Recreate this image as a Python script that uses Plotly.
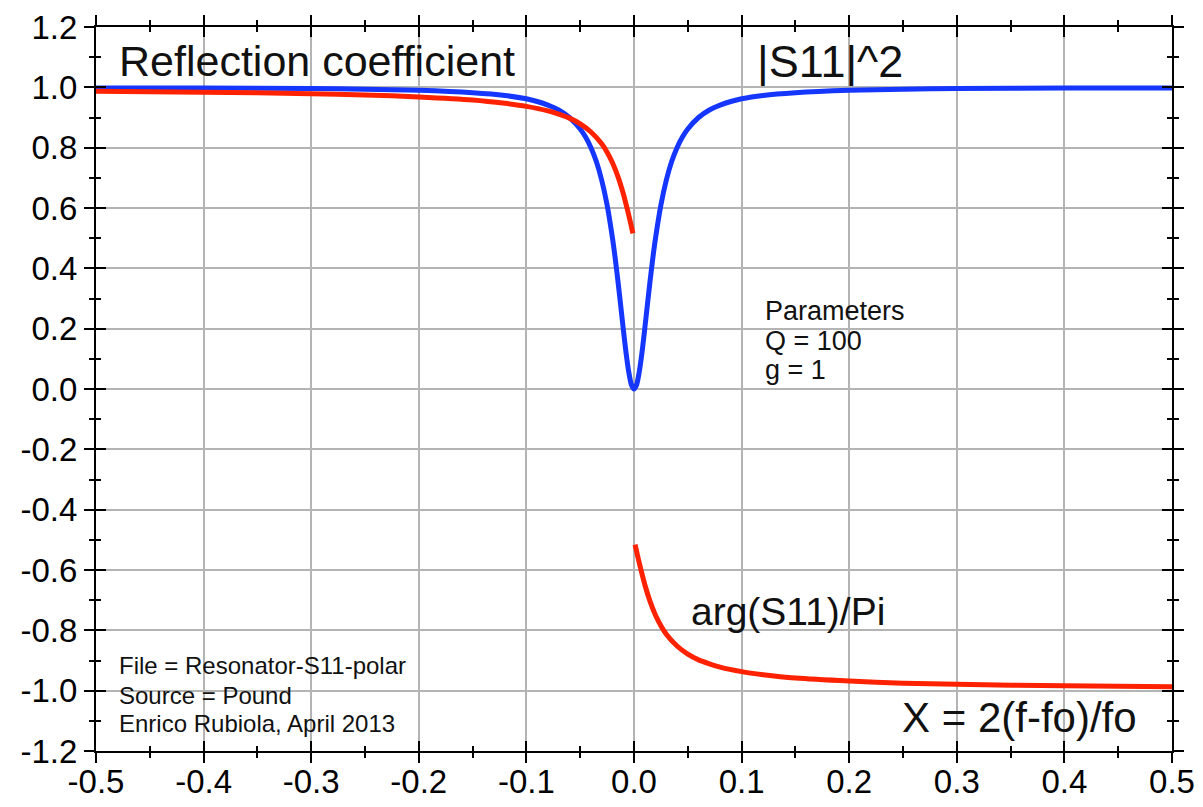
import plotly.graph_objects as go

# |S11|^2 (blue)
x_mag = [-0.5, -0.4, -0.3, -0.25, -0.2, -0.15, -0.12, -0.1, -0.09, -0.08, -0.07, -0.06, -0.05,
         -0.045, -0.04, -0.035, -0.03, -0.025, -0.02, -0.0175, -0.015, -0.0125, -0.01, -0.0075,
         -0.005, -0.0025, 0.0,
         0.0025, 0.005, 0.0075, 0.01, 0.0125, 0.015, 0.0175, 0.02, 0.025, 0.03, 0.035, 0.04, 0.045,
         0.05, 0.06, 0.07, 0.08, 0.09, 0.1, 0.12, 0.15, 0.2, 0.25, 0.3, 0.4, 0.5]
y_mag = [0.998, 0.998, 0.996, 0.994, 0.990, 0.982, 0.973, 0.962, 0.953, 0.941, 0.925, 0.900, 0.862,
         0.835, 0.800, 0.754, 0.692, 0.610, 0.500, 0.434, 0.360, 0.281, 0.200, 0.123,
         0.059, 0.015, 0.000,
         0.015, 0.059, 0.123, 0.200, 0.281, 0.360, 0.434, 0.500, 0.610, 0.692, 0.754, 0.800, 0.835,
         0.862, 0.900, 0.925, 0.941, 0.953, 0.962, 0.973, 0.982, 0.990, 0.994, 0.996, 0.998, 0.998]

# arg(S11)/Pi (red), two branches
x_arg_left = [-0.5, -0.4, -0.3, -0.25, -0.2, -0.15, -0.12, -0.1, -0.08, -0.07, -0.06, -0.05, -0.04,
              -0.03, -0.025, -0.02, -0.015, -0.01, -0.0075, -0.005, -0.0025, -0.001]
y_arg_left = [0.987, 0.984, 0.979, 0.975, 0.968, 0.958, 0.947, 0.937, 0.922, 0.911, 0.898, 0.879, 0.852,
              0.813, 0.785, 0.750, 0.705, 0.648, 0.614, 0.578, 0.540, 0.516]
x_arg_right = [0.001, 0.0025, 0.005, 0.0075, 0.01, 0.015, 0.02, 0.025, 0.03, 0.04, 0.05, 0.06, 0.07,
               0.08, 0.1, 0.12, 0.15, 0.2, 0.25, 0.3, 0.4, 0.5]
y_arg_right = [-0.516, -0.540, -0.578, -0.614, -0.648, -0.705, -0.750, -0.785, -0.813, -0.852, -0.879,
               -0.898, -0.911, -0.922, -0.937, -0.947, -0.958, -0.968, -0.975, -0.979, -0.984, -0.987]

x_ticks = [-0.5, -0.4, -0.3, -0.2, -0.1, 0.0, 0.1, 0.2, 0.3, 0.4, 0.5]
x_labels = ["-0.5", "-0.4", "-0.3", "-0.2", "-0.1", "0.0", "0.1", "0.2", "0.3", "0.4", "0.5"]
y_ticks = [1.2, 1.0, 0.8, 0.6, 0.4, 0.2, 0.0, -0.2, -0.4, -0.6, -0.8, -1.0, -1.2]
y_labels = ["1.2", "1.0", "0.8", "0.6", "0.4", "0.2", "0.0", "-0.2", "-0.4", "-0.6", "-0.8", "-1.0", "-1.2"]

BLUE = "#1536FF"
RED = "#FF2200"
FONT = "Liberation Sans, Arial, Helvetica, sans-serif"

fig = go.Figure()
fig.add_trace(go.Scatter(x=x_mag, y=y_mag, mode="lines", line=dict(color=BLUE, width=5, shape="spline", smoothing=0.6)))
fig.add_trace(go.Scatter(x=x_arg_left, y=y_arg_left, mode="lines", line=dict(color=RED, width=5, shape="spline", smoothing=0.6)))
fig.add_trace(go.Scatter(x=x_arg_right, y=y_arg_right, mode="lines", line=dict(color=RED, width=5, shape="spline", smoothing=0.6)))
# invisible trace to activate overlay axes
fig.add_trace(go.Scatter(x=[x_ticks[0]], y=[y_ticks[0]], xaxis="x2", yaxis="y2", mode="markers",
                         marker=dict(opacity=0), hoverinfo="skip"))

axis_common = dict(showline=True, linecolor="black", linewidth=2, mirror="ticks",
                   ticks="outside", ticklen=10, tickwidth=2, tickcolor="black",
                   zeroline=False, automargin=False)

fig.update_layout(
    width=1203, height=807,
    margin=dict(l=96, r=31, t=27, b=56),
    paper_bgcolor="white", plot_bgcolor="white",
    showlegend=False,
    font=dict(family=FONT, size=33, color="black"),
    xaxis=dict(range=[-0.5, 0.5], tickvals=x_ticks, ticktext=x_labels,
               showgrid=True, gridcolor="#b4b4b4", gridwidth=2,
               minor=dict(dtick=0.05, ticks="outside", ticklen=5, tickwidth=2, tickcolor="black", showgrid=False),
               ticklabelstandoff=-10,
               **axis_common),
    yaxis=dict(range=[-1.2, 1.2], tickvals=y_ticks, ticktext=y_labels,
               showgrid=True, gridcolor="#b4b4b4", gridwidth=2,
               minor=dict(dtick=0.1, ticks="outside", ticklen=5, tickwidth=2, tickcolor="black", showgrid=False),
               ticklabelstandoff=0,
               **axis_common),
    xaxis2=dict(overlaying="x", matches="x", range=[-0.5, 0.5], tickvals=x_ticks,
                showticklabels=False, showgrid=False, showline=False, zeroline=False, automargin=False,
                ticks="inside", ticklen=10, tickwidth=2, tickcolor="black", mirror="ticks",
                minor=dict(dtick=0.05, ticks="inside", ticklen=5, tickwidth=2, tickcolor="black", showgrid=False)),
    yaxis2=dict(overlaying="y", matches="y", range=[-1.2, 1.2], tickvals=y_ticks,
                showticklabels=False, showgrid=False, showline=False, zeroline=False, automargin=False,
                ticks="inside", ticklen=10, tickwidth=2, tickcolor="black", mirror="ticks",
                minor=dict(dtick=0.1, ticks="inside", ticklen=5, tickwidth=2, tickcolor="black", showgrid=False)),
)

def note(text, x, y, size, xanchor="left"):
    fig.add_annotation(text=text, x=x, y=y, xref="x", yref="y", showarrow=False,
                       xanchor=xanchor, yanchor="middle", font=dict(family=FONT, size=size, color="#111"))

note("Reflection coefficient", -0.4804, 1.087, 43)
note("|S11|^2", 0.112, 1.087, 45)
note("Parameters", 0.120, 0.258, 27)
note("Q = 100", 0.120, 0.159, 27)
note("g = 1", 0.120, 0.062, 27)
note("arg(S11)/Pi", 0.0512, -0.739, 39)
note("X = 2(f-fo)/fo", 0.4693, -1.089, 42, xanchor="right")
note("File = Resonator-S11-polar", -0.4804, -0.916, 24)
note("Source = Pound", -0.4804, -1.016, 24)
note("Enrico Rubiola, April 2013", -0.4804, -1.108, 24)

fig.write_html("out.html", config={"displayModeBar": False},
               post_script="document.body.style.margin='0';document.body.style.padding='0';document.body.style.overflow='hidden';")
